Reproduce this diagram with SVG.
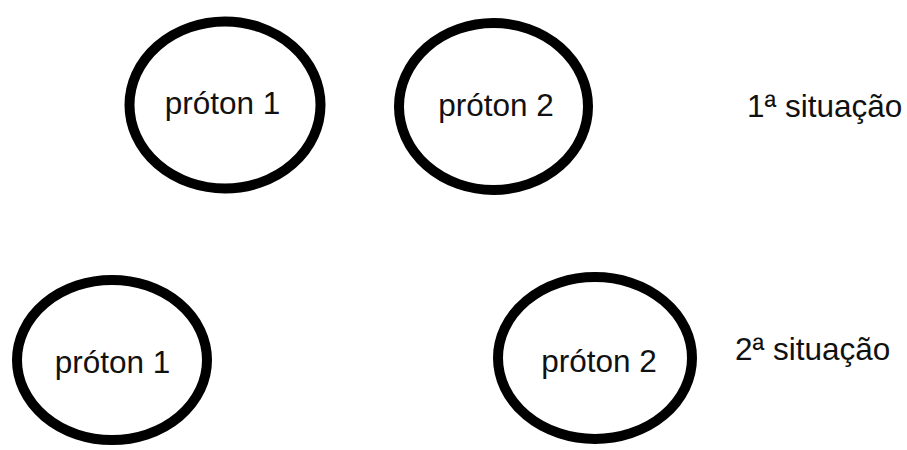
<svg xmlns="http://www.w3.org/2000/svg" width="907" height="450" viewBox="0 0 907 450">
<style>
.p ellipse{fill:none;stroke:#000;stroke-width:10}
text{font-family:"Liberation Sans",Arial,sans-serif;font-size:31.5px;fill:#111}
</style>
<rect width="907" height="450" fill="#fff"/>
<g id="p1a" class="p"><ellipse cx="225" cy="105" rx="95.5" ry="83.5"/><text x="222.5" y="114" text-anchor="middle">próton 1</text></g>
<g id="p2a" class="p"><ellipse cx="493.5" cy="106.5" rx="94.5" ry="83.5"/><text x="496" y="116" text-anchor="middle">próton 2</text></g>
<g id="p1b" class="p"><ellipse cx="112" cy="360" rx="95" ry="80"/><text x="112.5" y="373" text-anchor="middle">próton 1</text></g>
<g id="p2b" class="p"><ellipse cx="595" cy="358" rx="97" ry="81"/><text x="599" y="372" text-anchor="middle">próton 2</text></g>
<g id="labels">
<text x="747" y="117">1ª situação</text>
<text x="735" y="360">2ª situação</text>
</g>
<g id="connectors"/>
</svg>
